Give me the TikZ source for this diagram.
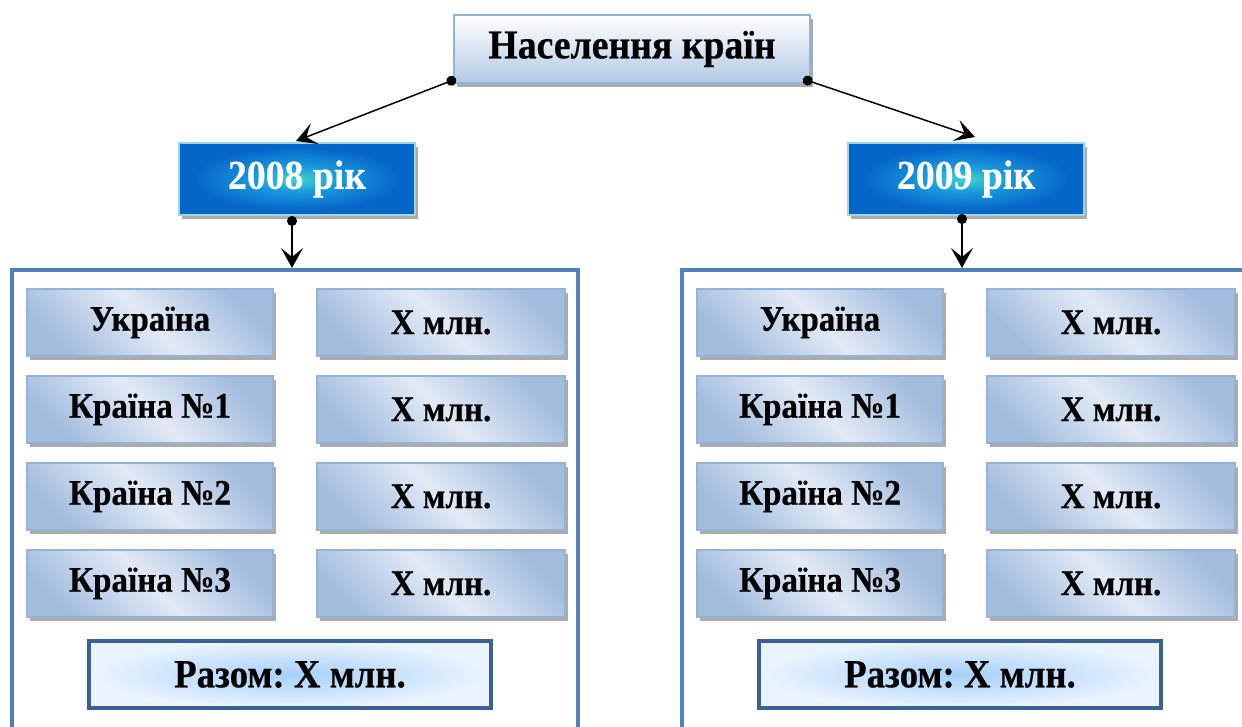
\documentclass[tikz,border=0pt]{standalone}
\usepackage{fontspec}
\setmainfont{Liberation Serif}
\newfontfamily\condensed[FakeStretch=0.92,BoldFeatures={FakeBold=0.5}]{Liberation Serif}
\usetikzlibrary{shadows,arrows.meta,calc}
\definecolor{cellborder}{HTML}{95B3D7}
\definecolor{celldark}{HTML}{A3BDDF}
\definecolor{celllight}{HTML}{E2EAF5}
\definecolor{topbottom}{HTML}{B3C9E4}
\definecolor{yearinner}{HTML}{3AD6C8}
\definecolor{yearmid}{HTML}{1A98DC}
\definecolor{yearouter}{HTML}{0466C8}
\definecolor{yearborder}{HTML}{A3D4E4}
\definecolor{sumborder}{HTML}{3B6192}
\definecolor{suminner}{HTML}{A6D0FA}
\definecolor{sumouter}{HTML}{EAF4FE}
\definecolor{frameblue}{HTML}{4F81BD}
\pgfdeclareradialshading{yearglow}{\pgfpoint{0bp}{0bp}}{color(0bp)=(yearinner); color(9bp)=(yearmid); color(22bp)=(yearouter); color(50bp)=(yearouter)}
\frenchspacing
\begin{document}
\begin{tikzpicture}[x=1pt,y=-1pt,
  shadowed/.style={drop shadow={shadow xshift=3pt,shadow yshift=-4pt,fill=black!55,opacity=0.6}},
  topbox/.style={shadowed,draw=cellborder,line width=2pt,top color=white,bottom color=topbottom,
    minimum width=356pt,minimum height=68pt,inner sep=0pt,font=\condensed\bfseries\fontsize{41}{46}\selectfont},
  yearbox/.style={shadowed,draw=yearborder,line width=2pt,shading=yearglow,
    minimum width=236pt,minimum height=72pt,inner sep=0pt,text=white,font=\condensed\bfseries\fontsize{41}{46}\selectfont},
  cell/.style={shadowed,draw=cellborder,line width=1.5pt,left color=celldark,right color=celldark,
    middle color=celllight,shading angle=-45,minimum width=246pt,minimum height=67pt,inner sep=0pt,
    font=\condensed\bfseries\fontsize{36}{40}\selectfont},
  sumbox/.style={draw=sumborder,line width=4pt,inner color=suminner,outer color=sumouter,
    minimum width=402pt,minimum height=67pt,inner sep=0pt,font=\condensed\bfseries\fontsize{40}{44}\selectfont},
  frame/.style={draw=frameblue,line width=4.5pt},
  conn/.style={draw=black,line width=1.5pt,{Circle[length=10pt]}-{Stealth[length=20pt,width=22pt,inset=9pt]}}
]
\useasboundingbox (0,0) rectangle (1242,727);

% containers
\draw[frame] (12,735) -- (12,270) -- (578,270) -- (578,735);
\draw[frame] (682,735) -- (682,270) -- (1250,270);
\coordinate (f1) at (292,268);
\coordinate (f2) at (962,268);

% top
\node[topbox] (top) at (632,49) {Населення країн};

% years
\node[yearbox] (y1) at (297,179) {2008 рік};
\node[yearbox] (y2) at (966,179) {2009 рік};

% cells
\foreach \n/\t [count=\i] in {a/Україна,b/Країна №1,c/Країна №2,d/Країна №3}{
  \pgfmathsetmacro{\yy}{322.5+(\i-1)*87}
  \node[cell] (L\n) at (150,\yy) {\t};
  \node[cell,minimum width=248pt] (LV\n) at (441,\yy) {X млн.};
  \node[cell] (R\n) at (820,\yy) {\t};
  \node[cell,minimum width=248pt] (RV\n) at (1111,\yy) {X млн.};
}

% sums
\node[sumbox] (s1) at (290,674.5) {Разом: X млн.};
\node[sumbox] (s2) at (960,674.5) {Разом: X млн.};

% connectors
\draw[conn] ($(top.south west)+(3,-5)$) -- ($(y1.north)+(-1,-1)$);
\draw[conn] ($(top.south east)+(-8,-5)$) -- ($(y2.north)+(9,-5)$);
\draw[conn] ($(y1.south)+(-5,0)$) -- (f1);
\draw[conn] ($(y2.south)+(-4,-2)$) -- (f2);
\end{tikzpicture}
\end{document}
